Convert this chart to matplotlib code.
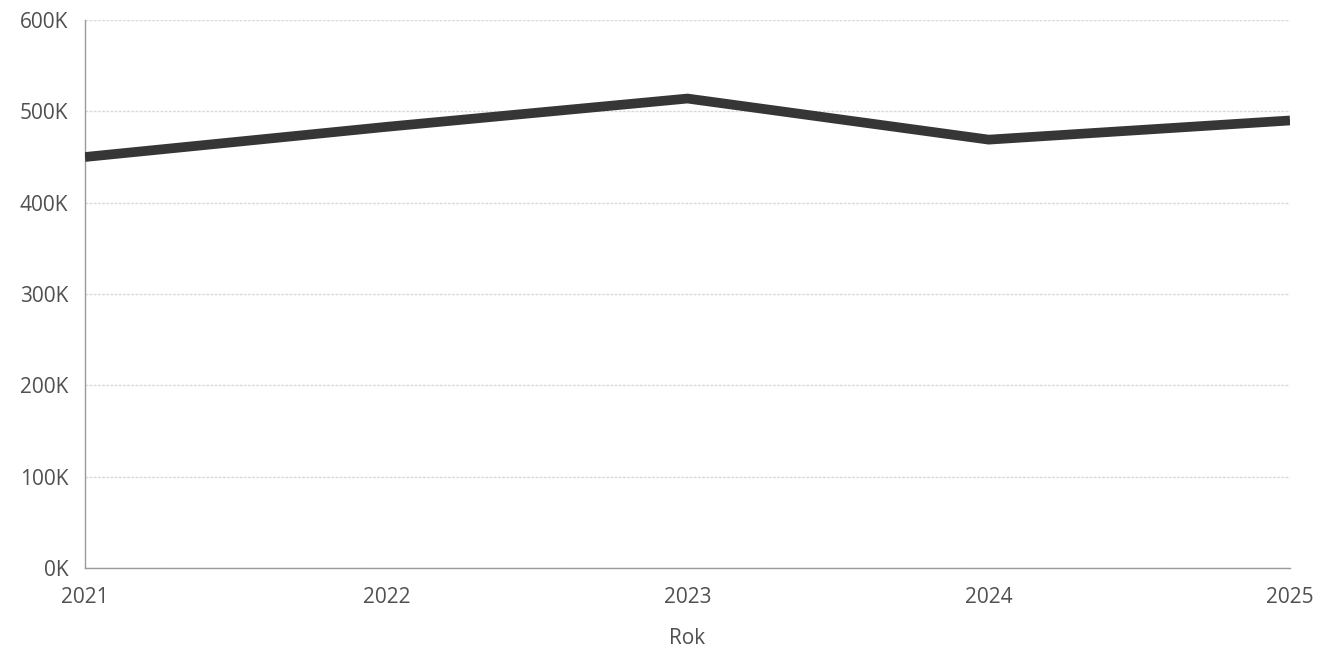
import matplotlib
matplotlib.use("Agg")
import matplotlib.pyplot as plt
from matplotlib.ticker import FuncFormatter

years = [2021, 2022, 2023, 2024, 2025]
values = [450000, 483000, 514000, 469000, 490000]
yticks = [0, 100000, 200000, 300000, 400000, 500000, 600000]
x_label = "Rok"

plt.rcParams['font.family'] = ['Open Sans', 'DejaVu Sans']

fig = plt.figure(figsize=(13.18, 6.58), dpi=100)
ax = fig.add_axes([85/1318, 1 - 568/658, (1290 - 85)/1318, (568 - 20)/658])

ax.plot(years, values, color="#363636", linewidth=7, solid_joinstyle="miter", solid_capstyle="butt", zorder=3)

ax.set_xlim(years[0], years[-1])
ax.set_ylim(0, 600000)
ax.set_yticks(yticks)
ax.set_xticks(years)
ax.yaxis.set_major_formatter(FuncFormatter(lambda v, p: f"{int(v/1000)}K"))
ax.grid(axis="y", color="#d9d9d9", linewidth=1, linestyle=(0, (2, 1)))
ax.grid(axis="x", visible=False)
ax.set_axisbelow(True)

for s in ["top", "right"]:
    ax.spines[s].set_visible(False)
for s in ["left", "bottom"]:
    ax.spines[s].set_color("#9a9a9a")
    ax.spines[s].set_linewidth(1)

ax.tick_params(axis="both", length=0, labelsize=15, labelcolor="#505050")
ax.tick_params(axis="y", pad=12)
ax.tick_params(axis="x", pad=14)
ax.set_xlabel(x_label, fontsize=15, color="#505050", labelpad=14)

fig.savefig("out.png", dpi=100, facecolor="white")
